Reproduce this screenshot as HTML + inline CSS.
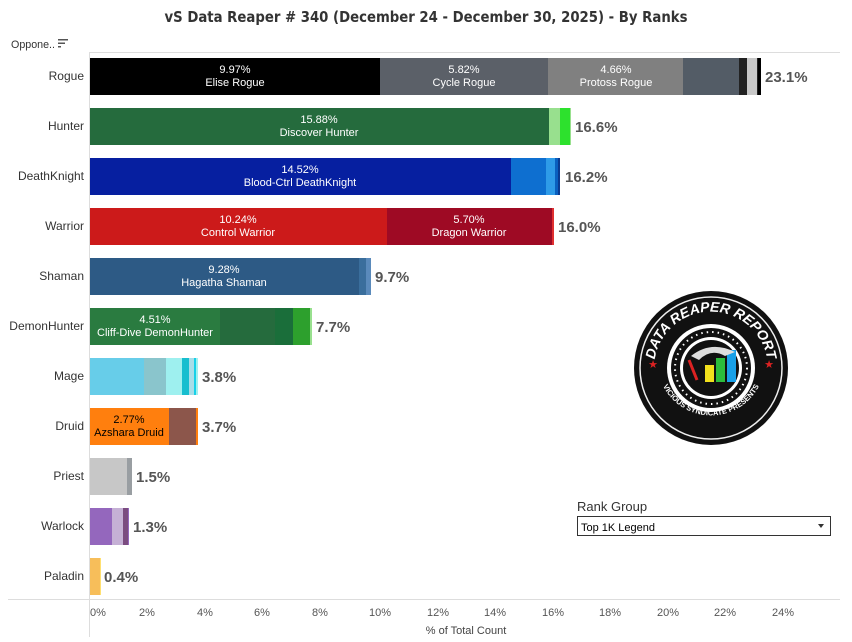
<!DOCTYPE html>
<html><head><meta charset="utf-8"><style>
html,body{margin:0;padding:0;background:#fff;}
svg{display:block;font-family:"Liberation Sans",sans-serif;}
</style></head><body>
<svg width="852" height="642" viewBox="0 0 852 642" xmlns="http://www.w3.org/2000/svg">
<rect width="852" height="642" fill="#fff"/>
<text x="426" y="22" text-anchor="middle" font-family="DejaVu Sans Condensed, Liberation Sans, sans-serif" font-size="15" font-weight="bold" fill="#333" textLength="523" lengthAdjust="spacingAndGlyphs">vS Data Reaper # 340 (December 24 - December 30, 2025) - By Ranks</text>
<text x="11" y="48" font-size="11" fill="#333" textLength="44" lengthAdjust="spacingAndGlyphs">Oppone..</text>
<g fill="#555"><rect x="58" y="39" width="10" height="1.5"/><rect x="58" y="42.5" width="7" height="1.5"/><rect x="58" y="46" width="3" height="1.5"/></g>
<line x1="89" y1="52.5" x2="840" y2="52.5" stroke="#ddd"/>
<line x1="89.5" y1="52" x2="89.5" y2="637" stroke="#ddd"/>
<line x1="8" y1="599.5" x2="840" y2="599.5" stroke="#ddd"/>
<g font-size="12" fill="#333" text-anchor="end">
<text x="84" y="80">Rogue</text><text x="84" y="130">Hunter</text><text x="84" y="180">DeathKnight</text><text x="84" y="230">Warrior</text><text x="84" y="280">Shaman</text><text x="84" y="330">DemonHunter</text><text x="84" y="380">Mage</text><text x="84" y="430">Druid</text><text x="84" y="480">Priest</text><text x="84" y="530">Warlock</text><text x="84" y="580">Paladin</text>
</g>
<rect x="90" y="58" width="290" height="37" fill="#000"/>
<rect x="380" y="58" width="168" height="37" fill="#5b6068"/>
<rect x="548" y="58" width="135" height="37" fill="#808080"/>
<rect x="683" y="58" width="56" height="37" fill="#535c66"/>
<rect x="739" y="58" width="8" height="37" fill="#222"/>
<rect x="747" y="58" width="10" height="37" fill="#c8c8c8"/>
<rect x="757" y="58" width="1" height="37" fill="#222"/>
<rect x="758" y="58" width="3" height="37" fill="#000"/>
<rect x="90" y="108" width="459" height="37" fill="#256b3d"/>
<rect x="549" y="108" width="11" height="37" fill="#98e08e"/>
<rect x="560" y="108" width="10" height="37" fill="#2de12d"/>
<rect x="570" y="108" width="1" height="37" fill="#98e08e"/>
<rect x="90" y="158" width="421" height="37" fill="#061fa0"/>
<rect x="511" y="158" width="35" height="37" fill="#0e6fd0"/>
<rect x="546" y="158" width="9" height="37" fill="#2e9be8"/>
<rect x="555" y="158" width="3" height="37" fill="#0a60c0"/>
<rect x="558" y="158" width="2" height="37" fill="#0a3a90"/>
<rect x="90" y="208" width="297" height="37" fill="#cc1a1a"/>
<rect x="387" y="208" width="165" height="37" fill="#9e0a24"/>
<rect x="552" y="208" width="2" height="37" fill="#e03030"/>
<rect x="90" y="258" width="269" height="37" fill="#2d5a85"/>
<rect x="359" y="258" width="7" height="37" fill="#3a6e9c"/>
<rect x="366" y="258" width="5" height="37" fill="#5a8abb"/>
<rect x="90" y="308" width="130" height="37" fill="#2a7b40"/>
<rect x="220" y="308" width="55" height="37" fill="#256b3d"/>
<rect x="275" y="308" width="18" height="37" fill="#1a6e3a"/>
<rect x="293" y="308" width="17" height="37" fill="#2da02d"/>
<rect x="310" y="308" width="2" height="37" fill="#98e08e"/>
<rect x="90" y="358" width="54" height="37" fill="#67cde9"/>
<rect x="144" y="358" width="22" height="37" fill="#8ac5cc"/>
<rect x="166" y="358" width="16" height="37" fill="#9ef0ef"/>
<rect x="182" y="358" width="7" height="37" fill="#17becf"/>
<rect x="189" y="358" width="5" height="37" fill="#a8dde8"/>
<rect x="194" y="358" width="2" height="37" fill="#17d0e8"/>
<rect x="196" y="358" width="2" height="37" fill="#9ef0ef"/>
<rect x="90" y="408" width="79" height="37" fill="#ff7f0e"/>
<rect x="169" y="408" width="27" height="37" fill="#8c564b"/>
<rect x="196" y="408" width="2" height="37" fill="#ff7f0e"/>
<rect x="90" y="458" width="37" height="37" fill="#c7c7c7"/>
<rect x="127" y="458" width="5" height="37" fill="#999ea2"/>
<rect x="90" y="508" width="22" height="37" fill="#9467bd"/>
<rect x="112" y="508" width="11" height="37" fill="#c5b0d5"/>
<rect x="123" y="508" width="5" height="37" fill="#7b4c80"/>
<rect x="128" y="508" width="1" height="37" fill="#9467bd"/>
<rect x="90" y="558" width="10" height="37" fill="#f7be5a"/>
<rect x="100" y="558" width="1" height="37" fill="#ffe070"/>
<g font-size="11" fill="#fff" text-anchor="middle">
<text x="235" y="73">9.97%</text><text x="235" y="86">Elise Rogue</text>
<text x="464" y="73">5.82%</text><text x="464" y="86">Cycle Rogue</text>
<text x="616" y="73">4.66%</text><text x="616" y="86">Protoss Rogue</text>
<text x="319" y="123">15.88%</text><text x="319" y="136">Discover Hunter</text>
<text x="300" y="173">14.52%</text><text x="300" y="186">Blood-Ctrl DeathKnight</text>
<text x="238" y="223">10.24%</text><text x="238" y="236">Control Warrior</text>
<text x="469" y="223">5.70%</text><text x="469" y="236">Dragon Warrior</text>
<text x="224" y="273">9.28%</text><text x="224" y="286">Hagatha Shaman</text>
<text x="155" y="323">4.51%</text><text x="155" y="336">Cliff-Dive DemonHunter</text>
</g>
<g font-size="11" fill="#000" text-anchor="middle">
<text x="129" y="423">2.77%</text><text x="129" y="436">Azshara Druid</text>
</g>
<g font-size="15" font-weight="bold" fill="#555">
<text x="765" y="82">23.1%</text><text x="575" y="132">16.6%</text><text x="565" y="182">16.2%</text>
<text x="558" y="232">16.0%</text><text x="375" y="282">9.7%</text><text x="316" y="332">7.7%</text>
<text x="202" y="382">3.8%</text><text x="202" y="432">3.7%</text><text x="136" y="482">1.5%</text>
<text x="133" y="532">1.3%</text><text x="104" y="582">0.4%</text>
</g>
<g font-size="11" fill="#555">
<text x="90" y="616">0%</text><text x="139" y="616">2%</text><text x="197" y="616">4%</text><text x="254" y="616">6%</text><text x="312" y="616">8%</text>
<text x="369" y="616">10%</text><text x="427" y="616">12%</text><text x="484" y="616">14%</text><text x="542" y="616">16%</text><text x="599" y="616">18%</text>
<text x="657" y="616">20%</text><text x="714" y="616">22%</text><text x="772" y="616">24%</text>
</g>
<text x="466" y="634" font-size="11" fill="#444" text-anchor="middle">% of Total Count</text>
<g transform="translate(711,368)">
<circle r="77" fill="#111"/>
<circle r="71" fill="none" stroke="#eee" stroke-width="1.5"/>
<circle r="44" fill="#fff"/>
<circle r="40" fill="#111"/>
<circle r="36" fill="none" stroke="#fff" stroke-width="2" stroke-dasharray="1.5 4"/>
<circle r="31" fill="#fff"/>
<circle r="28" fill="#111"/>
<rect x="-6" y="-3" width="9" height="17" fill="#f2e01c"/>
<rect x="5" y="-10" width="9" height="24" fill="#2cbd3c"/>
<rect x="16" y="-18" width="9" height="32" fill="#18a0e8"/>
<path d="M-20,-12 Q0,-28 24,-16 L14,-12 Q0,-20 -12,-8Z" fill="#ddd"/>
<path d="M-22,-8 L-14,12" stroke="#d22" stroke-width="3"/>
<path id="arcT" d="M-52,24 A57,57 0 1 1 52,24" fill="none"/>
<text font-size="14" font-weight="bold" fill="#fff" font-style="italic"><textPath href="#arcT" startOffset="50%" text-anchor="middle">DATA REAPER REPORT</textPath></text>
<path id="arcB" d="M-52,8 A54,54 0 0 0 52,8" fill="none"/>
<text font-size="7.5" font-weight="bold" fill="#fff"><textPath href="#arcB" startOffset="50%" text-anchor="middle">VICIOUS SYNDICATE PRESENTS</textPath></text>
<text x="-58" y="0" font-size="11" fill="#d22" text-anchor="middle">★</text>
<text x="58" y="0" font-size="11" fill="#d22" text-anchor="middle">★</text>
</g>
<text x="577" y="511" font-size="13" fill="#333">Rank Group</text>
<rect x="577.5" y="516.5" width="253" height="19" fill="#fff" stroke="#333"/>
<text x="581" y="531" font-size="11" fill="#000">Top 1K Legend</text>
<path d="M818,524 L824,524 L821,528Z" fill="#333"/>
</svg>
</body></html>
